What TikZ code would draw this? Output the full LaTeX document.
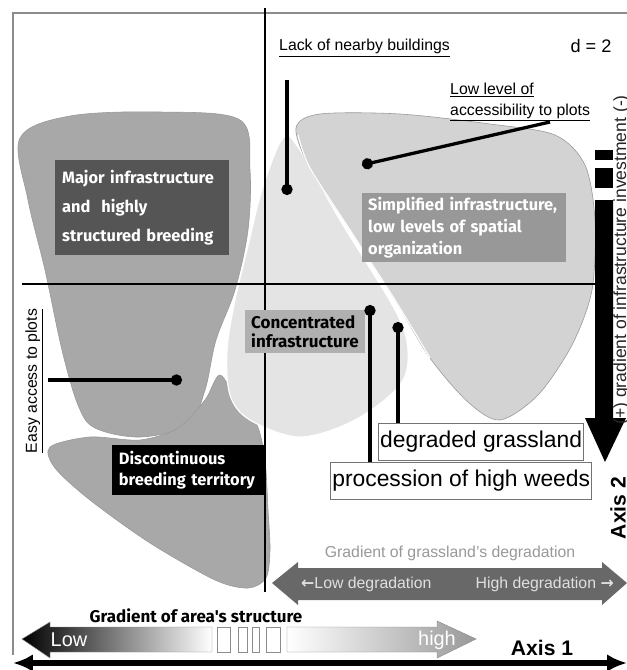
\documentclass[tikz,border=0pt]{standalone}
\usepackage{fontspec}
\setmainfont{Liberation Sans}
\newfontfamily\dinfont{Fira Sans}
\newfontfamily\symfont{DejaVu Sans}
\usetikzlibrary{arrows.meta,positioning}
\definecolor{regA}{RGB}{168,168,168}
\definecolor{regB}{RGB}{228,228,228}
\definecolor{regC}{RGB}{211,211,211}
\definecolor{majorgray}{RGB}{85,85,85}
\definecolor{simplegray}{RGB}{152,152,152}
\definecolor{concgray}{RGB}{176,176,176}
\definecolor{degrgray}{RGB}{104,104,104}

\begin{document}
\begin{tikzpicture}[
    x=0.03cm, y=-0.03cm,
    every node/.style={font=\fontsize{13.5}{17}\selectfont, inner sep=0pt},
    region/.style={draw=black!40, line width=0.5pt},
    tag/.style={anchor=north west, align=left, inner xsep=0.21cm, font=\dinfont\bfseries\fontsize{14}{24.5}\selectfont},
    weedbox/.style={draw=black!55, line width=0.7pt, fill=white, inner xsep=1.5pt, minimum height=1.11cm, font=\fontsize{19.5}{22}\selectfont},
    pin/.style={line width=2.8pt, -{Circle[length=9.5pt,width=9.5pt]}},
    axisline/.style={line width=1.6pt},
    frame/.style={draw=black!45, line width=1.1pt}
]
\useasboundingbox (0,0) rectangle (627,670);
\fill[white] (0,0) rectangle (627,670);
% outer frame
\draw[frame] (13,655) -- (13,13) -- (627,13);

% regions
\draw[region, fill=regA] plot[smooth cycle, tension=0.55] coordinates {(20,138) (70,116) (160,112) (240,120) (250,170) (248,230) (235,290) (216,340) (205,390) (188,425) (140,437) (95,428) (78,405) (62,350) (45,270) (28,200)};
\draw[region, fill=regA] plot[smooth cycle, tension=0.5] coordinates {(220,375) (238,402) (257,425) (265,460) (268,510) (270,550) (266,578) (248,588) (215,580) (150,543) (90,500) (55,468) (50,447) (90,437) (140,440) (178,428) (205,400)};
\draw[draw=white, line width=1pt, fill=regB] plot[smooth cycle, tension=0.55] coordinates {(283,138) (262,190) (247,250) (235,300) (227,350) (230,395) (250,420) (300,437) (355,420) (400,385) (408,350) (395,310) (340,220) (300,150)};
\draw[region, fill=regC] plot[smooth cycle, tension=0.5] coordinates {(296,128) (320,114) (400,114) (490,124) (555,135) (585,165) (595,220) (592,290) (572,345) (538,395) (500,420) (468,402) (430,358) (395,300) (350,230) (310,168)};
\draw[white, line width=1pt] plot[smooth, tension=0.5] coordinates {(298,135) (310,168) (350,230) (395,300) (430,358)};

% axes
\draw[axisline] (265,8) -- (265,592);
\draw[axisline] (22,284) -- (596,284);

% labels in the regions
\node[tag, fill=majorgray, text=white, text width=4.8cm, minimum height=2.85cm] (major) at (55,160) {Major infrastructure\\and\ \ highly\\structured breeding};
\node[tag, fill=simplegray, text=white, text width=5.76cm, minimum height=2.07cm, font=\dinfont\bfseries\fontsize{14}{18.5}\selectfont, inner xsep=0.18cm] (simple) at (362,193) {Simplified infrastructure,\\low levels of spatial\\organization};
\node[tag, fill=concgray, text=black, text width=3.24cm, minimum height=1.29cm, font=\dinfont\bfseries\fontsize{14.5}{16}\selectfont, inner xsep=0.18cm] (conc) at (245,310) {Concentrated\\infrastructure};
\node[tag, fill=black, text=white, text width=4.19cm, minimum height=1.5cm, font=\dinfont\bfseries\fontsize{14}{18}\selectfont, inner xsep=0.2cm] (disc) at (112,445) {Discontinuous\\breeding territory};

% notes
\node[anchor=west] (lack) at (279,48) {\underline{Lack of nearby buildings}};
\node[font=\fontsize{15.5}{18}\selectfont] (dim) at (591,46) {d = 2};
\node[anchor=north west, align=left] (lowacc) at (450,83) {\underline{Low level of}\\[1pt]\underline{accessibility to plots}};
\node[rotate=90] (easy) at (34,381) {\underline{Easy access to plots}};
\node[weedbox, anchor=north west] (grass) at (378,423) {degraded grassland};
\node[weedbox, below left=0.03cm and -0.24cm of grass.south east] (weeds) {procession of high weeds};

% pointers
\coordinate (lacktop) at (287,80);
\coordinate (lackpt) at (287,195);
\coordinate (lowend) at (550,122);
\coordinate (lowpt) at (362,165);
\coordinate (easyend) at (48,380);
\coordinate (easypt) at (182,380);
\coordinate (weedpt) at (370,305);
\coordinate (grasspt) at (398,322);
\draw[pin] (lacktop) -- (lackpt);
\draw[pin] (lowend) -- (lowpt);
\draw[pin] (easyend) -- (easypt);
\draw[pin] (weeds.north -| weedpt) -- (weedpt);
\draw[pin] (grass.north -| grasspt) -- (grasspt);

% axis 2
\fill (595,150) rectangle (613,160);
\fill (595,168) rectangle (613,188);
\fill (595,200) -- (613,200) -- (613,418) -- (626,418) -- (605,462) -- (585,418) -- (595,418) -- cycle;
\node[rotate=90, anchor=base, text=black!85, font=\fontsize{15}{18}\selectfont] (invest) at (626,260) {(+) gradient of infrastructure investment (-)};
\node[rotate=90, font=\bfseries\fontsize{18}{20}\selectfont] (axis2) at (618,508) {Axis 2};

% grassland degradation
\node[text=black!40] (degr) at (450,553) {Gradient of grassland's degradation};
\fill[degrgray] (272,583) -- (298,562) -- (298,568) -- (602,568) -- (602,562) -- (627,583) -- (602,605) -- (602,600) -- (298,600) -- (298,605) -- cycle;
\node[anchor=west, text=black!12] (lowdeg) at (301,584) {{\symfont\bfseries ←}Low degradation};
\node[anchor=east, text=black!12] (highdeg) at (614,584) {High degradation {\symfont\bfseries →}};

% area structure
\node[font=\dinfont\bfseries\fontsize{14.5}{16}\selectfont] (area) at (196,616) {Gradient of area's structure};
\shade[left color=black, right color=white, draw=black!45] (22,639) -- (50,622) -- (50,627) -- (212,627) -- (212,652) -- (50,652) -- (50,658) -- cycle;
\foreach \a/\b in {217/230, 238/247, 252/259, 266/280}
    \draw[black!45, line width=0.8pt] (\a,627) rectangle (\b,652);
\shade[left color=white, right color=black!40, draw=black!45] (287,627) -- (437,627) -- (437,621) -- (476,639) -- (437,658) -- (437,652) -- (287,652) -- cycle;
\node[text=white, font=\fontsize{17}{20}\selectfont] (low) at (69,640) {Low};
\node[text=white, font=\fontsize{17}{20}\selectfont] (high) at (437,640) {high};

% axis 1
\coordinate (ax1l) at (13,663);
\coordinate (ax1r) at (627,663);
\draw[line width=4.3pt, {Latex[length=17pt,width=15pt]}-{Latex[length=17pt,width=15pt]}] (ax1l) -- (ax1r);
\node[font=\bfseries\fontsize{18}{20}\selectfont] (axis1) at (542,648) {Axis 1};
\end{tikzpicture}
\end{document}
